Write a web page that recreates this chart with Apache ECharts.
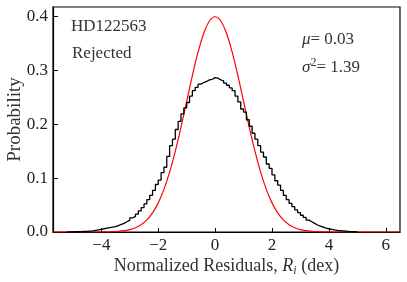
<!DOCTYPE html>
<html>
<head>
<meta charset="utf-8">
<script src="https://cdn.jsdelivr.net/npm/echarts@6/dist/echarts.min.js"></script>
<style>html,body{margin:0;padding:0;background:#fff}#c{width:407px;height:282px}</style>
</head>
<body>
<div id="c"></div>
<script>
// Histogram (step outline): bins of width 0.1 starting at -5.2
const binStart = -5.2;
const binWidth = 0.1;
const histValues = [
  0.0003,0.0003,0.0005,0.0005,0.0008,0.001,0.001,0.0015,0.002,0.003,
  0.004,0.005,0.006,0.007,0.008,0.009,0.010,0.012,0.014,0.016,
  0.019,0.022,0.026,0.029,0.033,0.039,0.045,0.052,0.060,0.068,
  0.077,0.088,0.096,0.110,0.120,0.140,0.160,0.172,0.190,0.205,
  0.219,0.230,0.240,0.252,0.262,0.268,0.274,0.277,0.279,0.282,
  0.283,0.286,0.285,0.282,0.280,0.276,0.272,0.267,0.262,0.252,
  0.241,0.228,0.222,0.208,0.196,0.183,0.172,0.160,0.148,0.139,
  0.126,0.118,0.106,0.095,0.087,0.077,0.068,0.060,0.053,0.047,
  0.041,0.036,0.031,0.027,0.022,0.019,0.016,0.013,0.011,0.009,
  0.007,0.006,0.005,0.004,0.003,0.0025,0.002,0.0015,0.001,0.0007,
  0.0005,0.0003
];
// Red reference curve
const curveX = [-6,-5,-4.5,-4,-3.8,-3.6,-3.4,-3.2,-3,-2.8,-2.6,-2.4,-2.2,-2,-1.8,-1.6,-1.4,-1.2,-1,-0.8,-0.6,-0.4,-0.2,0,
  0.2,0.4,0.6,0.8,1,1.2,1.4,1.6,1.8,2,2.2,2.4,2.6,2.8,3,3.2,3.4,3.6,3.8,4,4.5,5,6,6.5];
const curveY = [0,0,0,0.0001,0.0003,0.0006,0.0012,0.0024,0.0044,0.0079,0.0136,0.0224,0.0355,0.054,0.079,0.1109,0.1497,0.1942,0.242,0.2897,0.3332,0.3683,0.391,0.3989,
  0.391,0.3683,0.3332,0.2897,0.242,0.1942,0.1497,0.1109,0.079,0.054,0.0355,0.0224,0.0136,0.0079,0.0044,0.0024,0.0012,0.0006,0.0003,0.0001,0,0,0,0];
const xTicks = [-4,-2,0,2,4,6];
const yTicks = [0.0,0.1,0.2,0.3,0.4];
const labelStar = 'HD122563';
const labelSet = 'Rejected';
const muText = '0.03';
const sigmaText = '1.39';

const FONT = '"Liberation Serif", "Times New Roman", serif';
const n = histValues.length;
const histData = [[binStart, 0]];
for (let i = 0; i < n; i++) histData.push([binStart + i * binWidth, histValues[i]]);
histData.push([binStart + n * binWidth, 0]);
const curveData = curveX.map((x, i) => [x, curveY[i]]);

const chart = echarts.init(document.getElementById('c'), null, {renderer: 'canvas'});
chart.setOption({
  animation: false,
  backgroundColor: '#fff',
  grid: {left: 53, right: 7, top: 7, bottom: 50, containLabel: false, outerBoundsMode: 'none',
    show: true, borderColor: '#000', borderWidth: 1.2, backgroundColor: 'transparent'},
  xAxis: {
    type: 'value', min: -5.7, max: 6.5,
    axisLine: {show: true, onZero: false, lineStyle: {color: '#000', width: 1.2}},
    axisTick: {show: true, inside: true, length: 4, customValues: xTicks, lineStyle: {color: '#000'}},
    axisLabel: {customValues: xTicks, color: '#222', fontFamily: FONT, fontSize: 17, margin: 5,
      formatter: v => (v < 0 ? '\u2212' + Math.abs(v) : String(v))},
    splitLine: {show: false},
    name: '{t|Normalized Residuals, }{i|R}{s|i}{t| (dex)}',
    nameLocation: 'middle', nameGap: 23, nameMoveOverlap: false,
    nameTextStyle: {rich: {
      t: {fontFamily: FONT, fontSize: 18, color: '#333', lineHeight: 22},
      i: {fontFamily: FONT, fontSize: 18, color: '#333', fontStyle: 'italic', lineHeight: 22},
      s: {fontFamily: FONT, fontSize: 12, color: '#333', fontStyle: 'italic', lineHeight: 9, verticalAlign: 'bottom'}
    }}
  },
  yAxis: {
    type: 'value', min: 0, max: 0.417,
    axisLine: {show: true, onZero: false, lineStyle: {color: '#000', width: 1.2}},
    axisTick: {show: true, inside: true, length: 5, customValues: yTicks, lineStyle: {color: '#000'}},
    axisLabel: {customValues: yTicks, color: '#222', fontFamily: FONT, fontSize: 17, margin: 5,
      formatter: v => v.toFixed(1)},
    splitLine: {show: false},
    name: 'Probability', nameLocation: 'middle', nameGap: 28, nameMoveOverlap: false,
    nameTextStyle: {fontFamily: FONT, fontSize: 19, color: '#333'}
  },
  series: [
    {type: 'line', data: curveData, smooth: 0.4, symbol: 'none', clip: true,
     lineStyle: {color: '#ff0000', width: 1.2}, z: 2},
    {type: 'line', data: histData, step: 'end', symbol: 'none', clip: true,
     lineStyle: {color: '#000', width: 1.3}, z: 3}
  ],
  graphic: [
    {type: 'text', left: 71, top: 18, style: {text: labelStar, font: '17px ' + FONT, fill: '#333'}},
    {type: 'text', left: 72, top: 45, style: {text: labelSet, font: '17px ' + FONT, fill: '#333'}},
    {type: 'text', left: 302, top: 31, style: {
      text: '{g|\u03bc}{t|= ' + muText + '}',
      rich: {g: {fontFamily: FONT, fontSize: 17, fontStyle: 'italic', fill: '#333', lineHeight: 22},
             t: {fontFamily: FONT, fontSize: 17, fill: '#333', lineHeight: 22}}}},
    {type: 'text', left: 302, top: 57, style: {
      text: '{g|\u03c3}{p|2}{t|= ' + sigmaText + '}',
      rich: {g: {fontFamily: FONT, fontSize: 17, fontStyle: 'italic', fill: '#333', lineHeight: 22},
             p: {fontFamily: FONT, fontSize: 12, fill: '#333', lineHeight: 8, verticalAlign: 'top'},
             t: {fontFamily: FONT, fontSize: 17, fill: '#333', lineHeight: 22}}}}
  ]
});
</script>
</body>
</html>
